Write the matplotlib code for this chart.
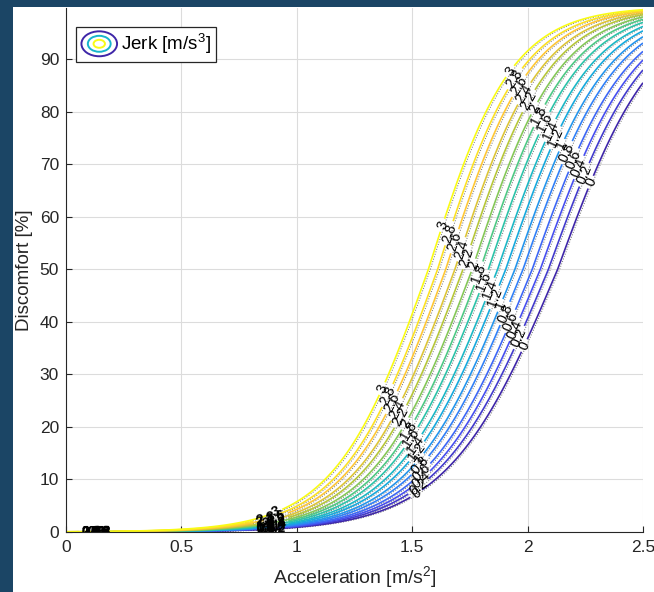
import numpy as np
import matplotlib
matplotlib.use('Agg')
import matplotlib.pyplot as plt
import matplotlib.transforms as mtransforms
from matplotlib.colors import LinearSegmentedColormap
from matplotlib.patches import Ellipse, Rectangle
from matplotlib.legend_handler import HandlerBase
from matplotlib.ticker import FormatStrFormatter

plt.rcParams['font.family'] = ['Liberation Sans', 'DejaVu Sans']
plt.rcParams['mathtext.fontset'] = 'custom'
plt.rcParams['mathtext.rm'] = 'Liberation Sans'
plt.rcParams['mathtext.it'] = 'Liberation Sans'

### DATA

# contour levels of jerk [m/s^3]
jerk_levels = [0, 0.2, 0.4, 0.6, 0.8, 1, 1.2, 1.4, 1.6, 1.8, 2, 2.2, 2.4, 2.6, 2.8, 3]
# acceleration where each jerk curve crosses 50 % discomfort
a_half = [2.13, 2.09, 2.055, 2.02, 1.98, 1.945, 1.905, 1.87,
          1.83, 1.795, 1.76, 1.72, 1.685, 1.645, 1.61, 1.57]
# steepness of each curve below / above the 50 % point
k_low = [4.15, 4.2, 4.25, 4.3, 4.35, 4.4, 4.45, 4.5,
         4.55, 4.6, 4.65, 4.7, 4.75, 4.8, 4.85, 4.9]
k_high = [4.8, 4.85, 4.9, 4.95, 5.0, 5.05, 5.1, 5.15,
          5.2, 5.25, 5.3, 5.35, 5.4, 5.45, 5.5, 5.55]

x_ticks = [0, 0.5, 1, 1.5, 2, 2.5]
y_ticks = [0, 10, 20, 30, 40, 50, 60, 70, 80, 90]

# parula-like colormap
parula = LinearSegmentedColormap.from_list('parula', [
    (0.2422, 0.1504, 0.6603), (0.2810, 0.3228, 0.9579), (0.1786, 0.5289, 0.9682),
    (0.0689, 0.6948, 0.8394), (0.2161, 0.7843, 0.5923), (0.6720, 0.7793, 0.2227),
    (0.9970, 0.7659, 0.2199), (0.9769, 0.9839, 0.0805)])

n = len(jerk_levels)
lev = np.array(jerk_levels, dtype=float)


def a_on_curve(i, d):
    L = np.log(d / (100 - d))
    k = k_low[i] if L < 0 else k_high[i]
    return a_half[i] + L / k


def d_on_curve(i, a):
    k = k_low[i] if a < a_half[i] else k_high[i]
    return 100 / (1 + np.exp(-k * (a - a_half[i])))


# build the jerk surface on an (acceleration, discomfort) grid
logit_grid = np.linspace(-12, 7, 900)
d_grid = 100 / (1 + np.exp(-logit_grid))
acc_grid = np.linspace(0, 2.5, 600)
Z = np.empty((len(d_grid), len(acc_grid)))
for r, d in enumerate(d_grid):
    xp = np.array([a_on_curve(i, d) for i in range(n)])[::-1]
    fp = lev[::-1]
    z = np.interp(acc_grid, xp, fp)
    lo = acc_grid < xp[0]
    z[lo] = fp[0] + (acc_grid[lo] - xp[0]) * (fp[1] - fp[0]) / (xp[1] - xp[0])
    hi = acc_grid > xp[-1]
    z[hi] = fp[-1] + (acc_grid[hi] - xp[-1]) * (fp[-1] - fp[-2]) / (xp[-1] - xp[-2])
    Z[r] = z

### PLOT

fig = plt.figure(figsize=(6.54, 5.92), dpi=100, facecolor='#1b4565')
fig.patches.append(Rectangle((12.7 / 654, 0), 1, 1 - 6.7 / 592, transform=fig.transFigure,
                             facecolor='white', edgecolor='none', zorder=-10))
ax = fig.add_axes([66 / 654, 1 - 532 / 592, 577 / 654, 523.7 / 592])
ax.set_xlim(0, 2.5)
ax.set_ylim(0, 99.7)

ax.grid(True, color='#dcdcdc', linewidth=0.8)
ax.set_axisbelow(True)

offset = mtransforms.ScaledTranslation(1.3 / 72, -0.4 / 72, fig.dpi_scale_trans)
ax.contour(acc_grid, d_grid, Z, levels=lev, colors='#222222', linewidths=0.7,
           linestyles=':', alpha=0.65, transform=ax.transData + offset)
cs = ax.contour(acc_grid, d_grid, Z, levels=lev, cmap=parula, vmin=0, vmax=3, linewidths=1.2)

# label positions along each curve, in diagonal clusters like the original
label_pos = []
for d3, d0 in [(87.7, 66.6), (58.4, 35.5), (27.3, 7.3)]:
    for i in range(n):
        dt = d0 + (d3 - d0) * i / (n - 1)
        label_pos.append((a_on_curve(i, dt), dt))
n_upper = len(label_pos)
for a_even, a_odd in [(0.865, 0.91), (0.11, 0.15)]:
    for i in range(n):
        a = a_even if i % 2 == 0 else a_odd
        label_pos.append((a, d_on_curve(i, a)))
texts = ax.clabel(cs, manual=label_pos, inline=True, inline_spacing=3, fontsize=10,
                  colors='k', fmt='%g')
for t in texts[n_upper:]:
    t.set_fontweight('bold')

ax.set_xticks(x_ticks)
ax.set_yticks(y_ticks)
ax.xaxis.set_major_formatter(FormatStrFormatter('%g'))
ax.tick_params(direction='in', length=4, width=0.8, labelsize=12.5, colors='#262626',
               top=False, right=False)
ax.tick_params(axis='x', pad=6)
ax.tick_params(axis='y', pad=5)
for s in ['top', 'right']:
    ax.spines[s].set_visible(False)
for s in ['left', 'bottom']:
    ax.spines[s].set_color('#262626')
    ax.spines[s].set_linewidth(0.8)

ax.set_xlabel('Acceleration [m/s$^2$]', fontsize=14, color='#262626', labelpad=6)
ax.set_ylabel('Discomfort [%]', fontsize=13.5, color='#262626', labelpad=5)


# legend with concentric ellipse icon
class JerkIcon:
    pass


class EllipseHandler(HandlerBase):
    def create_artists(self, legend, orig_handle, xdescent, ydescent, width, height,
                       fontsize, trans):
        cx = width / 2 - xdescent
        cy = height / 2 - ydescent
        arts = []
        for frac, c in [(1.0, parula(0.0)), (0.64, parula(0.45)), (0.32, parula(1.0))]:
            arts.append(Ellipse((cx, cy), width * frac, height * 1.9 * frac, fill=False,
                                edgecolor=c, linewidth=1.4, transform=trans))
        return arts


leg = ax.legend([JerkIcon()], ['Jerk [m/s$^3$]'], handler_map={JerkIcon: EllipseHandler()},
                loc='upper left', bbox_to_anchor=(0.017, 0.965), borderaxespad=0,
                fontsize=13.5, fancybox=False, framealpha=1, edgecolor='#262626',
                handlelength=1.9, handletextpad=0.2, borderpad=0.3)
leg.get_frame().set_linewidth(0.9)

fig.savefig('out.png', dpi=100, facecolor=fig.get_facecolor())
